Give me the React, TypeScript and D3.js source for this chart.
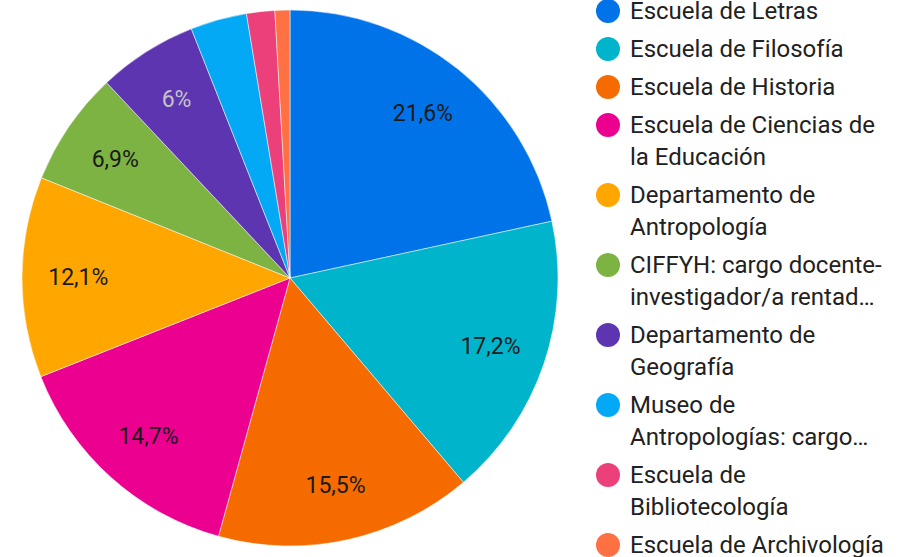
import React from 'react';
import * as d3 from 'd3';

const categories = [
  'Escuela de Letras',
  'Escuela de Filosofía',
  'Escuela de Historia',
  'Escuela de Ciencias de la Educación',
  'Departamento de Antropología',
  'CIFFYH: cargo docente-investigador/a rentado',
  'Departamento de Geografía',
  'Museo de Antropologías: cargo',
  'Escuela de Bibliotecología',
  'Escuela de Archivología',
];

// legend lines as shown (wrapped / truncated)
const legendLines = [
  ['Escuela de Letras'],
  ['Escuela de Filosofía'],
  ['Escuela de Historia'],
  ['Escuela de Ciencias de', 'la Educación'],
  ['Departamento de', 'Antropología'],
  ['CIFFYH: cargo docente-', 'investigador/a rentad…'],
  ['Departamento de', 'Geografía'],
  ['Museo de', 'Antropologías: cargo…'],
  ['Escuela de', 'Bibliotecología'],
  ['Escuela de Archivología'],
];

const values = [21.6, 17.2, 15.5, 14.7, 12.1, 6.9, 6.0, 3.4, 1.7, 0.9];

const colors = [
  '#0073E8', '#00B5CB', '#F56B00', '#EC0090', '#FFA600',
  '#7CB342', '#5E35B1', '#03A9F4', '#EC407A', '#FF7043',
];

const App = () => {
  const width = 908;
  const height = 557;
  const cx = 290;
  const cy = 278;
  const radius = 268;

  const pie = d3.pie<number>().value(d => d).sort(null);
  const arcs = pie(values);
  const arc = d3.arc<d3.PieArcDatum<number>>().innerRadius(0).outerRadius(radius);
  const labelArc = d3.arc<d3.PieArcDatum<number>>().innerRadius(radius * 0.79).outerRadius(radius * 0.79);

  const fmt = (v: number) => (Number.isInteger(v) ? `${v}%` : `${v.toFixed(1).replace('.', ',')}%`);

  // legend positions
  let y = 11;
  const legendRows = legendLines.map((lines, i) => {
    const row = { lines, y, i };
    y += 38 + (lines.length - 1) * 32;
    return row;
  });

  return (
    <svg width={width} height={height} style={{ position: 'absolute', left: 0, top: 0 }}
      fontFamily="Roboto, sans-serif">
      <g transform={`translate(${cx},${cy})`}>
        {arcs.map((a, i) => (
          <path key={i} d={arc(a) || ''} fill={colors[i]} stroke="#fff" strokeWidth={0.5} />
        ))}
        {arcs.map((a, i) => {
          if (values[i] < 5) return null;
          const [x, yy] = labelArc.centroid(a);
          return (
            <text key={'l' + i} x={x} y={yy} dy="0.35em" textAnchor="middle" fontSize={23}
              fill={i === 6 ? '#c4c4c4' : '#1a1a1a'}>
              {fmt(values[i])}
            </text>
          );
        })}
      </g>
      <g>
        {legendRows.map(r => (
          <g key={r.i}>
            <circle cx={608} cy={r.y} r={12} fill={colors[r.i]} />
            {r.lines.map((ln, j) => (
              <text key={j} x={630} y={r.y + j * 32} dy="0.35em" fontSize={24} fill="#212121">
                {ln}
              </text>
            ))}
          </g>
        ))}
      </g>
    </svg>
  );
};

export default App;
